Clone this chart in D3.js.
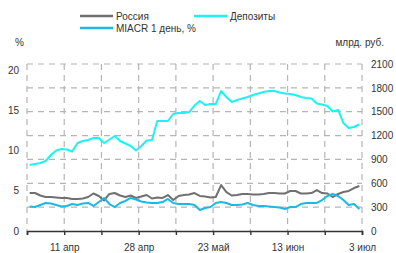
<!DOCTYPE html>
<html>
<head>
<meta charset="utf-8">
<script src="https://cdn.jsdelivr.net/npm/d3@7"></script>
<style>
body { margin: 0; background: #fff; }
text { font-family: "Liberation Sans", Arial, sans-serif; fill: #333; }
</style>
</head>
<body>
<div id="chart"></div>
<script>
// values, one per trading day
var russia = [4.72,4.72,4.41,4.22,4.22,4.16,4.10,4.10,3.98,3.98,4.04,4.22,4.66,4.35,3.79,4.60,
	4.72,4.41,4.22,4.41,4.10,4.29,4.47,4.04,4.16,4.10,4.47,3.85,4.35,4.47,4.53,4.72,
	4.35,4.29,4.16,4.22,5.71,4.84,4.41,4.47,4.60,4.60,4.53,4.53,4.60,4.72,4.72,4.66,
	4.66,4.97,4.97,4.66,4.66,4.72,5.09,4.72,4.66,4.22,4.60,4.84,4.97,5.34,5.59];
var deposits = [830,843,855,880,956,1012,1031,1025,1000,1107,1132,1144,1169,1169,1107,1151,
	1195,1132,1100,1069,1012,1069,1138,1144,1383,1383,1383,1471,1484,1484,1496,1578,
	1635,1584,1597,1597,1760,1685,1622,1647,1666,1685,1710,1729,1748,1760,1760,1742,
	1729,1723,1710,1685,1672,1666,1603,1591,1572,1503,1522,1358,1295,1308,1339];
var miacr = [3.04,2.98,3.23,3.48,3.42,3.23,3.04,3.11,3.35,3.23,3.42,3.48,3.11,3.60,4.10,3.35,
	2.98,3.48,3.73,4.10,3.91,3.66,3.54,3.48,3.48,3.60,3.98,3.48,3.35,3.35,3.35,3.23,
	2.61,2.86,2.98,3.48,3.60,3.48,3.23,3.23,3.29,3.48,3.23,3.11,3.11,3.04,2.98,2.92,
	2.73,2.98,2.98,3.35,3.48,3.48,3.48,3.85,4.35,4.60,4.35,3.85,3.23,3.35,2.73];

var tickLabels = ["11 апр", "28 апр", "23 май", "13 июн", "3 июл"];
var tickAt = [7, 21, 35, 49, 63];
var leftTicks = [0, 5, 10, 15, 20];
var rightTicks = [0, 300, 600, 900, 1200, 1500, 1800, 2100];

var width = 396, height = 253;
var svg = d3.select("#chart").append("svg")
	.attr("width", width)
	.attr("height", height);

var n = russia.length;
var x = d3.scaleLinear().domain([0, n]).range([27, 362]);
var yL = d3.scaleLinear().domain([0, 20]).range([231, 70]);
var yR = d3.scaleLinear().domain([0, 2100]).range([231, 64]);

// dashed grid
var grid = svg.append("g")
	.attr("stroke", "#b5b5b5")
	.attr("stroke-width", 1.2)
	.attr("stroke-dasharray", "6,5");
grid.selectAll("line.h")
	.data(rightTicks.slice(1))
	.enter().append("line")
	.attr("x1", x(0)).attr("x2", x(n))
	.attr("y1", function(d) { return yR(d); })
	.attr("y2", function(d) { return yR(d); });
var vLines = d3.range(0, n + 1, 7);
grid.selectAll("line.v")
	.data(vLines)
	.enter().append("line")
	.attr("x1", function(d) { return x(d); })
	.attr("x2", function(d) { return x(d); })
	.attr("y1", yR(2100)).attr("y2", yL(0));

// axes
var gl = svg.append("g")
	.attr("transform", "translate(27,0)")
	.call(d3.axisLeft(yL).tickValues(leftTicks).tickSize(0).tickPadding(8));
gl.select(".domain").remove();

var gr = svg.append("g")
	.attr("transform", "translate(362,0)")
	.call(d3.axisRight(yR).tickValues(rightTicks).tickSize(0).tickPadding(9)
		.tickFormat(d3.format("d")));
gr.select(".domain").remove();

var gb = svg.append("g")
	.attr("transform", "translate(0,231)")
	.call(d3.axisBottom(x).tickValues(vLines).tickSize(4).tickPadding(9)
		.tickFormat(function(d) {
			var k = tickAt.indexOf(d);
			return k < 0 ? "" : tickLabels[k];
		}));
gb.select(".domain").attr("stroke", "#333").attr("stroke-width", 1.6);
gb.selectAll(".tick line").attr("stroke", "#333").attr("stroke-width", 1.4);

svg.selectAll(".tick text")
	.style("font-size", "10px")
	.style("font-family", "'Liberation Sans', Arial, sans-serif")
	.attr("fill", "#333");

// series
var series = [
	{ name: "Россия", values: russia, y: yL, color: "#707070" },
	{ name: "Депозиты", values: deposits, y: yR, color: "#1ef2f2" },
	{ name: "MIACR 1 день, %", values: miacr, y: yL, color: "#1cb9e4" }
];
series.forEach(function(s) {
	var line = d3.line()
		.x(function(d, i) { return x(i + 0.5); })
		.y(function(d) { return s.y(d); });
	svg.append("path")
		.datum(s.values)
		.attr("d", line)
		.attr("fill", "none")
		.attr("stroke", s.color)
		.attr("stroke-width", 2)
		.attr("stroke-linejoin", "round");
});

// legend
var legendPos = [[80, 16], [194, 16], [80, 28]];
var lg = svg.selectAll("g.legend")
	.data(series)
	.enter().append("g")
	.attr("transform", function(d, i) {
		return "translate(" + legendPos[i][0] + "," + legendPos[i][1] + ")";
	});
lg.append("line")
	.attr("x1", 0).attr("x2", 33)
	.attr("stroke", function(d) { return d.color; })
	.attr("stroke-width", 2.5);
lg.append("text")
	.attr("x", 36).attr("dy", "0.35em")
	.style("font-size", "10px")
	.text(function(d) { return d.name; });

// units
svg.append("text").attr("x", 15).attr("y", 46).style("font-size", "10px").text("%");
svg.append("text").attr("x", 384).attr("y", 46).attr("text-anchor", "end")
	.style("font-size", "10px").text("млрд. руб.");
</script>
</body>
</html>
